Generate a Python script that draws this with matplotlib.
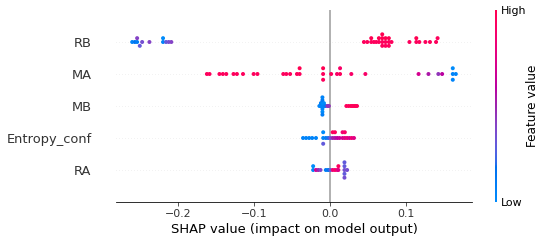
import numpy as np
import matplotlib
matplotlib.use('Agg')
import matplotlib.pyplot as plt
from matplotlib.colors import LinearSegmentedColormap
from matplotlib import cm

# features from bottom row to top row
features = ['RA', 'Entropy_conf', 'MB', 'MA', 'RB']

shap_rb = [-0.2608, -0.2573, -0.2543, -0.2543, -0.2508, -0.2477, -0.2381,
           -0.2202, -0.2202, -0.2163, -0.2128, -0.2093,
           0.0441, 0.0485, 0.0537, 0.0537, 0.0572, 0.0603, 0.0638, 0.0638,
           0.0682, 0.0682, 0.0682, 0.0682, 0.0725, 0.0725, 0.0725,
           0.0769, 0.0769, 0.0769, 0.0804,
           0.104, 0.113, 0.113, 0.117, 0.125, 0.131, 0.139, 0.141]
val_rb = [0.05, 0.15, 0.1, 0.4, 0.3, 0.35, 0.4,
          0.05, 0.0, 0.3, 0.35, 0.4,
          0.95, 0.95, 0.95, 1.0, 0.95, 0.95, 0.95, 1.0,
          0.95, 1.0, 0.95, 1.0, 0.95, 1.0, 0.95,
          0.95, 1.0, 0.95, 0.95,
          0.95, 0.95, 1.0, 0.95, 0.95, 0.95, 0.95, 0.95]

shap_ma = [-0.1625, -0.159, -0.146, -0.1415, -0.137, -0.1275, -0.123, -0.115,
           -0.101, -0.096, -0.062, -0.058, -0.053, -0.044, -0.0405, -0.0405,
           -0.0096, -0.0096, -0.0096, 0.001, 0.0087, 0.0127, 0.0127, 0.0275,
           0.046, 0.116, 0.129, 0.142, 0.147, 0.161, 0.161, 0.161, 0.165]
val_ma = [0.95, 0.95, 0.95, 0.95, 0.95, 0.95, 0.95, 0.95,
          0.95, 0.95, 0.95, 0.95, 0.95, 0.95, 0.95, 1.0,
          0.95, 1.0, 0.95, 0.95, 0.9, 0.95, 0.9, 0.9,
          0.9, 0.7, 0.55, 0.45, 0.6, 0.05, 0.0, 0.05, 0.05]

shap_mb = [-0.0145, -0.0125, -0.0125, -0.0105, -0.0105, -0.0105, -0.0105,
           -0.0105, -0.0105, -0.0105, -0.0085, -0.0085, -0.0065, -0.004, -0.002,
           0.021, 0.024, 0.027, 0.029, 0.031, 0.033, 0.035]
val_mb = [0.05, 0.05, 0.1, 0.05, 0.0, 0.05, 0.1, 0.0, 0.05, 0.1, 0.05, 0.0, 0.1,
          0.45, 0.45,
          0.95, 0.95, 1.0, 0.95, 0.95, 1.0, 0.95]

shap_ent = [-0.036, -0.032, -0.028, -0.024, -0.019,
            -0.0095, -0.0095, -0.0095, -0.006, -0.003, 0.0,
            0.003, 0.003, 0.006, 0.006, 0.009, 0.012,
            0.016, 0.016, 0.019, 0.019, 0.022, 0.025, 0.028, 0.031]
val_ent = [0.05, 0.05, 0.05, 0.05, 0.05,
           0.05, 0.0, 0.3, 0.1, 0.2, 0.35,
           0.5, 0.95, 0.55, 0.95, 0.6, 0.65,
           0.7, 0.85, 0.75, 0.9, 0.8, 0.7, 0.85, 0.75]

shap_ra = [-0.0227, -0.0227, -0.019, -0.016, -0.013,
           -0.006, -0.003, 0.0, 0.003, 0.006, 0.009, 0.0105, 0.0105,
           0.0185, 0.0185, 0.0185, 0.0185, 0.0185, 0.022]
val_ra = [0.05, 0.0, 0.7, 0.5, 0.4,
          0.1, 0.15, 0.3, 0.85, 0.9, 0.8, 0.75, 0.95,
          0.35, 0.3, 0.3, 0.3, 0.35, 0.35]

shap_rows = [shap_ra, shap_ent, shap_mb, shap_ma, shap_rb]
val_rows = [val_ra, val_ent, val_mb, val_ma, val_rb]


# shap's red_blue colormap, interpolated in LCH space
def lch2rgb(l, c, h):
    a, b = c * np.cos(h), c * np.sin(h)
    fy = (l + 16) / 116
    f = np.array([fy + a / 500, fy, fy - b / 200])
    t = np.where(f > 6 / 29, f ** 3, 3 * (6 / 29) ** 2 * (f - 4 / 29))
    xyz = t * np.array([0.95047, 1.0, 1.08883])
    m = np.array([[3.2406, -1.5372, -0.4986],
                  [-0.9689, 1.8758, 0.0415],
                  [0.0557, -0.2040, 1.0570]])
    rgb = m @ xyz
    rgb = np.where(rgb > 0.0031308, 1.055 * np.abs(rgb) ** (1 / 2.4) - 0.055, 12.92 * rgb)
    return np.clip(rgb, 0, 1)


blue_lch = [54., 70., 4.6588]
red_lch = [54., 90., 0.35470565 + 2 * np.pi]
n = 100
ls = list(np.linspace(blue_lch[0], 40., n // 2)) + list(np.linspace(40., red_lch[0], n // 2))
cs = np.linspace(blue_lch[1], red_lch[1], n)
hs = np.linspace(blue_lch[2], red_lch[2], n)
cmap = LinearSegmentedColormap.from_list('red_blue', [lch2rgb(l, c, h) for l, c, h in zip(ls, cs, hs)])


def swarm(shaps, nbins=100, row_height=0.4):
    shaps = np.asarray(shaps)
    quant = np.round(nbins * (shaps - shaps.min()) / (shaps.max() - shaps.min() + 1e-8))
    inds = np.argsort(quant, kind='stable')
    ys = np.zeros(len(shaps))
    layer, last = 0, -1
    for i in inds:
        if quant[i] != last:
            layer = 0
        ys[i] = np.ceil(layer / 2) * ((layer % 2) * 2 - 1)
        layer += 1
        last = quant[i]
    return ys * 0.9 * (row_height / np.max(ys + 1))


fig = plt.figure(figsize=(546 / 72, 244 / 72), dpi=72)
ax = fig.add_axes([116 / 546, 42 / 244, 356 / 546, 192 / 244])

ax.axvline(0, color='#999999', zorder=-1)
for pos in range(len(features)):
    ax.axhline(pos, color='#cccccc', lw=0.5, dashes=(1, 5), zorder=-1)
    s = np.array(shap_rows[pos])
    ax.scatter(s, pos + swarm(s), c=val_rows[pos], cmap=cmap, vmin=0, vmax=1,
               s=16, linewidth=0, alpha=1, zorder=3)

ax.set_ylim(-1, len(features))
ax.set_yticks(range(len(features)))
ax.set_yticklabels(features, fontsize=13)
ax.yaxis.set_ticks_position('none')
ax.tick_params('y', pad=21)
ax.xaxis.set_ticks_position('bottom')
ax.tick_params(color='#333333', labelcolor='#333333')
ax.tick_params('x', labelsize=11)
for sp in ['right', 'top', 'left']:
    ax.spines[sp].set_visible(False)
ax.set_xlabel('SHAP value (impact on model output)', fontsize=13)

cax = fig.add_axes([494.5 / 546, 42 / 244, 2.6 / 546, 192 / 244])
m = cm.ScalarMappable(cmap=cmap)
m.set_array([0, 1])
cb = fig.colorbar(m, cax=cax, ticks=[0, 1])
cb.set_ticklabels(['Low', 'High'])
cb.set_label('Feature value', size=12, labelpad=0)
cb.ax.tick_params(labelsize=11, length=0)
cb.outline.set_visible(False)

fig.savefig('out.png', dpi=72)
